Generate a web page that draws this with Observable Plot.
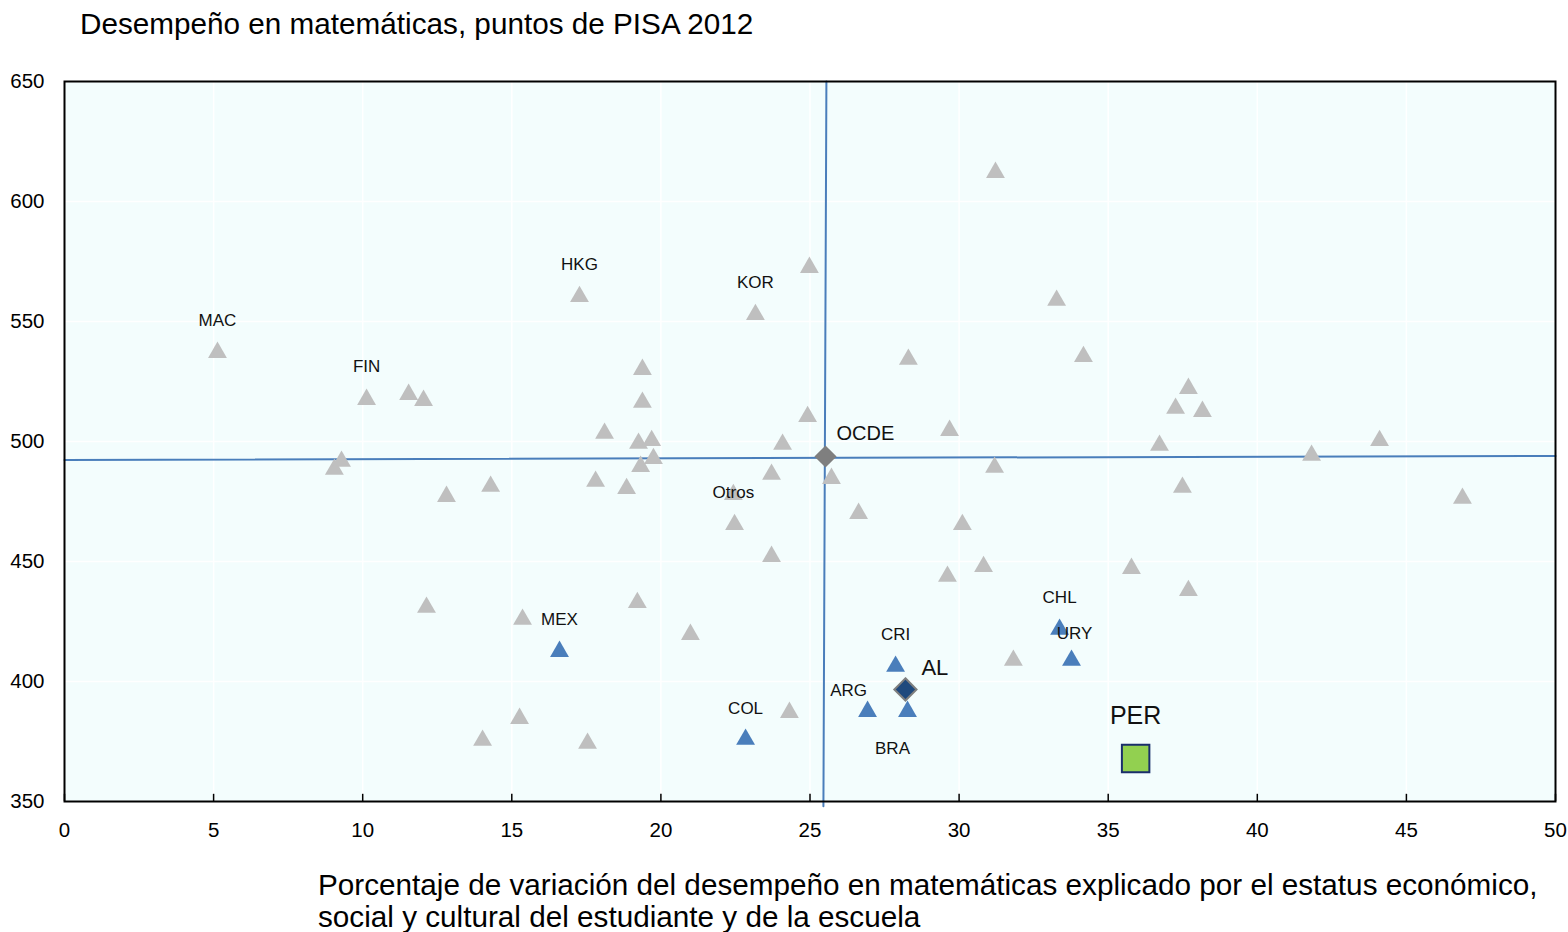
<!DOCTYPE html>
<html><head><meta charset="utf-8">
<script src="https://cdn.jsdelivr.net/npm/d3@7"></script>
<script src="https://cdn.jsdelivr.net/npm/@observablehq/plot@0.6"></script>
<style>
body{margin:0;background:#fff;width:1568px;height:932px;position:relative;overflow:hidden;font-family:"Liberation Sans",Arial,sans-serif;color:#000;}
#title{position:absolute;left:80px;top:6px;font-size:29.7px;line-height:36px;white-space:nowrap;}
#chart{position:absolute;left:0;top:60px;}
#xlabel{position:absolute;left:318px;top:869px;font-size:29.7px;line-height:32px;white-space:nowrap;}
</style></head><body>
<div id="title">Desempeño en matemáticas, puntos de PISA 2012</div>
<div id="chart"></div>
<div id="xlabel">Porcentaje de variación del desempeño en matemáticas explicado por el estatus económico,<br>social y cultural del estudiante y de la escuela</div>
<script>
// ---- data ----
const otherNames = ["MAC","FIN","","","","","","","","","","","","HKG","","","","","","","","","","","","KOR","","","","","Otros","","","","","","","","","","","","","","","","","","","","","","","","",""];
const otherX = [5.13,10.13,11.54,12.04,9.05,9.29,12.81,14.29,12.14,15.36,15.26,14.02,17.54,17.27,19.38,19.38,18.11,19.25,19.69,19.75,19.32,17.81,18.85,19.21,20.99,23.17,24.98,24.92,24.08,23.71,22.43,22.47,23.71,24.31,25.72,26.63,28.3,31.22,29.68,31.19,30.11,29.61,30.82,31.82,33.27,34.17,36.72,37.69,37.26,38.16,37.49,35.78,37.69,41.82,44.1,46.88];
const otherY = [537.1,517.5,519.6,517.1,488.4,491.7,477.1,481.3,430.9,425.9,384.6,375.5,374.2,560.4,530,516.3,503.4,499.2,500.4,492.9,489.6,483.4,480.4,432.9,419.6,552.9,572.5,510.4,498.8,486.3,477.9,465.4,452.1,387.1,484.6,470,534.2,612.1,504.6,489.2,465.4,443.8,447.9,408.8,558.8,535.4,498.4,522.1,513.8,512.5,480.9,447.1,437.9,494.2,500.4,476.3];

const latamNames = ["MEX","COL","CRI","ARG","BRA","CHL","URY"];
const latamX = [16.6,22.84,27.87,26.93,28.27,33.37,33.77];
const latamY = [412.5,375.9,406.3,387.5,387.5,421.7,408.8];

const aggNames = ["OCDE","AL"];
const aggX = [25.52,28.2];
const aggY = [493.75,396.7];

const focusName = ["PER"];
const focusX = [35.92];
const focusY = [367.9];

const vLineX = [25.55,25.45];
const vLineY = [650,348];
const hLineX = [0,50];
const hLineY = [492.3,494.0];

const xTicks = [0,5,10,15,20,25,30,35,40,45,50];
const yTicks = [350,400,450,500,550,600,650];

// ---- build tables ----
const others = otherX.map((x,i)=>({name:otherNames[i],x,y:otherY[i]}));
const latam = latamX.map((x,i)=>({name:latamNames[i],x,y:latamY[i]}));
const aggs = aggX.map((x,i)=>({name:aggNames[i],x,y:aggY[i]}));
const focus = focusX.map((x,i)=>({name:focusName[i],x,y:focusY[i]}));
const vLine = vLineX.map((x,i)=>({x,y:vLineY[i]}));
const hLine = hLineX.map((x,i)=>({x,y:hLineY[i]}));

// label styling (offsets in px)
const labelStyle = {
  MAC:{dx:0,dy:-32}, FIN:{dx:0,dy:-33}, HKG:{dx:0,dy:-32}, KOR:{dx:0,dy:-32}, Otros:{dx:0,dy:-2},
  MEX:{dx:0,dy:-32}, COL:{dx:0,dy:-31}, CRI:{dx:0,dy:-32}, ARG:{dx:-19,dy:-21}, BRA:{dx:-15,dy:37},
  CHL:{dx:0,dy:-32}, URY:{dx:3,dy:-27}
};
const font = '"Liberation Sans",Arial,sans-serif';

const labelMarks = [...others.filter(d=>d.name), ...latam].map(d =>
  Plot.text([d], {x:"x", y:"y", text:"name", dx:labelStyle[d.name].dx, dy:labelStyle[d.name].dy,
    fontSize:17, fill:"#111", fontFamily:font}));

const bg = "#f3fdfd";
const chart = Plot.plot({
  width:1568, height:790,
  marginLeft:64, marginRight:13, marginTop:21, marginBottom:49,
  style:{fontFamily:font, fontSize:"20.5px", color:"#000", background:"transparent"},
  x:{domain:[0,50], ticks:xTicks},
  y:{domain:[350,650], ticks:yTicks},
  marks:[
    Plot.frame({fill:bg}),
    Plot.gridX(xTicks, {stroke:"white", strokeOpacity:1, strokeWidth:1.5}),
    Plot.gridY(yTicks, {stroke:"white", strokeOpacity:1, strokeWidth:1.5}),
    Plot.line(vLine, {x:"x", y:"y", stroke:"#4a7ebb", strokeWidth:2}),
    Plot.line(hLine, {x:"x", y:"y", stroke:"#4a7ebb", strokeWidth:2}),
    Plot.dot(others, {x:"x", y:"y", symbol:"triangle", r:7, fill:"#bfbfbf", stroke:"none"}),
    Plot.dot(latam, {x:"x", y:"y", symbol:"triangle", r:7, fill:"#4a7ebb", stroke:"none"}),
    Plot.dot(aggs.filter(d=>d.name==="OCDE"), {x:"x", y:"y", symbol:"diamond2", r:10, fill:"#7f7f7f", stroke:"none"}),
    Plot.dot(aggs.filter(d=>d.name==="AL"), {x:"x", y:"y", symbol:"diamond2", r:10, fill:"#1f497d", stroke:"#7f7f7f", strokeWidth:2}),
    Plot.dot(focus, {x:"x", y:"y", symbol:"square", r:15.5, fill:"#92d050", stroke:"#1a2e6b", strokeWidth:2}),
    Plot.ruleX(xTicks, {y1:350, y2:353, stroke:"black", strokeWidth:1.5}),
    Plot.frame({stroke:"black", strokeWidth:2}),
    ...labelMarks,
    Plot.text(aggs.filter(d=>d.name==="OCDE"), {x:"x", y:"y", text:"name", textAnchor:"start", dx:11, dy:-23, fontSize:20, fill:"#111", fontFamily:font}),
    Plot.text(aggs.filter(d=>d.name==="AL"), {x:"x", y:"y", text:"name", textAnchor:"start", dx:16, dy:-21, fontSize:22, fill:"#111", fontFamily:font}),
    Plot.text(focus, {x:"x", y:"y", text:"name", dy:-43, fontSize:25, fill:"#111", fontFamily:font}),
    Plot.axisX({ticks:xTicks, tickSize:0, tickPadding:21, label:null, tickFormat:d=>String(d)}),
    Plot.axisY({ticks:yTicks, tickSize:0, tickPadding:20, label:null, tickFormat:d=>String(d)})
  ]
});
document.getElementById("chart").appendChild(chart);
</script>
</body></html>
